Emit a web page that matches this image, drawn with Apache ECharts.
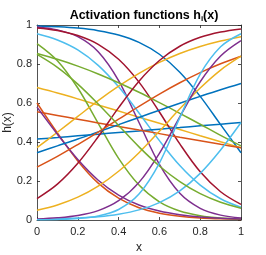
<!DOCTYPE html>
<html>
<head>
<meta charset="utf-8">
<script src="https://cdn.jsdelivr.net/npm/echarts@6/dist/echarts.min.js"></script>
<style>html,body{margin:0;padding:0;background:#fff}#c{width:266px;height:255px}</style>
</head>
<body>
<div id="c"></div>
<script>
const xs = [0, 0.1, 0.2, 0.3, 0.4, 0.5, 0.6, 0.7, 0.8, 0.9, 1];
const xTicks = ['0', '0.2', '0.4', '0.6', '0.8', '1'];
const yTicks = ['0', '0.2', '0.4', '0.6', '0.8', '1'];
const colorOrder = ['#0072BD', '#D95319', '#EDB120', '#7E2F8E', '#77AC30', '#4DBEEE', '#A2142F'];

const h1  = [0.995, 0.991, 0.984, 0.971, 0.949, 0.911, 0.850, 0.758, 0.634, 0.489, 0.345];
const h2  = [0.600, 0.446, 0.303, 0.189, 0.112, 0.063, 0.035, 0.019, 0.010, 0.006, 0.003];
const h3  = [0.679, 0.651, 0.621, 0.590, 0.559, 0.527, 0.496, 0.464, 0.432, 0.401, 0.371];
const h4  = [0.990, 0.975, 0.940, 0.863, 0.715, 0.500, 0.285, 0.137, 0.060, 0.025, 0.010];
const h5  = [0.905, 0.817, 0.677, 0.496, 0.316, 0.179, 0.093, 0.046, 0.022, 0.010, 0.005];
const h6  = [0.955, 0.923, 0.872, 0.793, 0.683, 0.549, 0.407, 0.279, 0.179, 0.109, 0.065];
const h7  = [0.985, 0.972, 0.946, 0.901, 0.824, 0.707, 0.554, 0.390, 0.247, 0.145, 0.080];
const h8  = [0.415, 0.423, 0.432, 0.440, 0.449, 0.457, 0.466, 0.474, 0.483, 0.491, 0.500];
const h9  = [0.555, 0.536, 0.517, 0.498, 0.480, 0.461, 0.443, 0.424, 0.406, 0.388, 0.371];
const h10 = [0.371, 0.450, 0.531, 0.612, 0.686, 0.752, 0.808, 0.854, 0.890, 0.918, 0.940];
const h11 = [0.579, 0.440, 0.310, 0.204, 0.128, 0.077, 0.046, 0.027, 0.015, 0.009, 0.005];
const h12 = [0.854, 0.824, 0.789, 0.749, 0.704, 0.655, 0.602, 0.547, 0.491, 0.434, 0.380];
const h13 = [0.003, 0.005, 0.010, 0.017, 0.030, 0.052, 0.089, 0.149, 0.239, 0.359, 0.500];
const h14 = [0.110, 0.184, 0.291, 0.427, 0.576, 0.712, 0.818, 0.891, 0.937, 0.964, 0.980];
const h15 = [0.345, 0.380, 0.415, 0.452, 0.489, 0.526, 0.563, 0.599, 0.634, 0.668, 0.700];
const h16 = [0.271, 0.326, 0.387, 0.451, 0.517, 0.583, 0.646, 0.704, 0.756, 0.801, 0.840];
const h17 = [0.050, 0.077, 0.117, 0.174, 0.250, 0.345, 0.455, 0.570, 0.677, 0.769, 0.840];
const h18 = [0.005, 0.011, 0.023, 0.048, 0.099, 0.193, 0.342, 0.529, 0.709, 0.841, 0.920];
const h19 = [0.849, 0.783, 0.697, 0.595, 0.485, 0.375, 0.277, 0.197, 0.135, 0.091, 0.060];
const h20 = [0.001, 0.003, 0.008, 0.021, 0.054, 0.133, 0.292, 0.525, 0.748, 0.888, 0.955];

const curves = [h1,h2,h3,h4,h5,h6,h7,h8,h9,h10,h11,h12,h13,h14,h15,h16,h17,h18,h19,h20];

const FONT = 'Liberation Sans, Arial, sans-serif';
const AX = '#262626';

const series = curves.map((c, i) => ({
  type: 'line',
  xAxisIndex: 0, yAxisIndex: 0,
  data: xs.map((x, j) => [x, c[j]]),
  smooth: 0.35,
  showSymbol: false,
  silent: true,
  animation: false,
  lineStyle: { color: colorOrder[i % 7], width: 1.5 },
  itemStyle: { color: colorOrder[i % 7] }
}));

function baseAxis(extra) {
  return Object.assign({
    type: 'value', min: 0, max: 1, interval: 0.2,
    axisLine: { show: true, onZero: false, lineStyle: { color: AX, width: 0.8 } },
    axisTick: { show: true, inside: true, length: 3, lineStyle: { color: AX, width: 0.8 } },
    splitLine: { show: false }
  }, extra);
}

const chart = echarts.init(document.getElementById('c'), null, { renderer: 'canvas' });
chart.setOption({
  animation: false,
  backgroundColor: '#ffffff',
  title: {
    text: '{a|Activation functions h}{s|i}{a|(x)}',
    left: 139, top: 3, textAlign: 'center',
    textStyle: {
      rich: {
        a: { fontFamily: FONT, fontWeight: 'bold', fontSize: 12.5, color: '#000' },
        s: { fontFamily: FONT, fontWeight: 'bold', fontSize: 8, color: '#000', padding: [7, 0, 0, 0] }
      }
    }
  },
  grid: { left: 37, right: 25, top: 25, bottom: 35, containLabel: false, outerBoundsMode: 'none' },
  xAxis: [
    baseAxis({
      position: 'bottom',
      name: 'x', nameLocation: 'middle', nameGap: 22, nameMoveOverlap: false,
      nameTextStyle: { fontFamily: FONT, fontSize: 12, color: AX },
      axisLabel: { fontFamily: FONT, fontSize: 11, color: AX, margin: 6,
        formatter: v => xTicks[Math.round(v / 0.2)] }
    }),
    baseAxis({ position: 'top', axisLabel: { show: false } })
  ],
  yAxis: [
    baseAxis({
      position: 'left',
      name: 'h(x)', nameLocation: 'middle', nameGap: 23, nameRotate: 90, nameMoveOverlap: false,
      nameTextStyle: { fontFamily: FONT, fontSize: 12, color: AX },
      axisLabel: { fontFamily: FONT, fontSize: 11, color: AX, margin: 5,
        formatter: v => yTicks[Math.round(v / 0.2)] }
    }),
    baseAxis({ position: 'right', axisLabel: { show: false } })
  ],
  series: series
});
</script>
</body>
</html>
